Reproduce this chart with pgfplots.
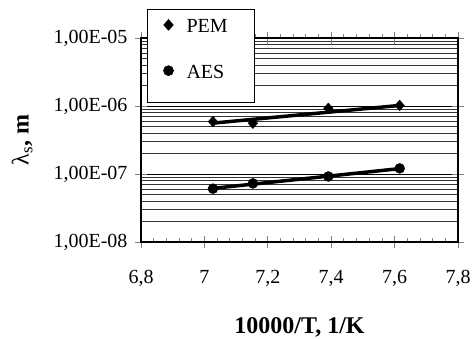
\documentclass[border=0pt]{standalone}
\usepackage{pgfplots}
\pgfplotsset{compat=1.18}
\usepackage{fontspec}
\setmainfont{Liberation Serif}
\begin{document}
\begin{tikzpicture}
\useasboundingbox (0pt,0pt) rectangle (474pt,339pt);
\begin{axis}[
  at={(141pt,97pt)}, anchor=south west,
  scale only axis, width=317pt, height=204pt,
  ymode=log, ymin=1e-8, ymax=1e-5,
  xmin=6.8, xmax=7.8,
  xtick={6.8,7.0,7.2,7.4,7.6,7.8},
  xticklabels={{6,8},7,{7,2},{7,4},{7,6},{7,8}},
  ytick={1e-8,1e-7,1e-6,1e-5},
  yticklabels={{1,00E-08},{1,00E-07},{1,00E-06},{1,00E-05}},
  minor x tick num=4,
  tick align=center,
  major tick length=12pt,
  minor tick length=4pt,
  minor x tick style={yshift=2pt, line width=0.8pt},
  major x tick style={line width=0.8pt},
  major y tick style={line width=0.8pt},
  minor y tick style={draw=none},
  ymajorgrids, yminorgrids,
  major grid style={black, line width=0.7pt},
  minor grid style={black!80, line width=0.55pt},
  axis line style={line width=0.9pt},
  y axis line style={line width=1.4pt},
  ticklabel style={font=\fontsize{20}{24}\selectfont},
  yticklabel style={xshift=-4pt},
  xticklabel style={yshift=-19pt},
  xlabel={\textbf{10000/T, 1/K}},
  ylabel={λ\textsubscript{s}\textbf{, m}},
  label style={font=\fontsize{24}{28}\selectfont},
  xlabel style={at={(axis description cs:0.5,-0.42)}, anchor=center},
  ylabel style={at={(axis description cs:-0.375,0.5)}, anchor=center},
  legend style={at={(0.0199,1.1422)}, anchor=north west, draw=black, line width=0.6pt,
    font=\fontsize{20}{24}\selectfont, fill=white, inner xsep=15.9pt, inner ysep=9.3pt,
    row sep=17pt, nodes={inner sep=0pt, text height=14pt, text depth=14.7pt},
    /tikz/every odd column/.style={column sep=13pt}},
  legend image post style={yshift=8pt},
  legend cell align=left,
  clip=false,
]
\addplot[black, line width=3.5pt, forget plot] coordinates {(7.027,5.6e-7) (7.616,1.02e-6)};
\addplot[black, line width=3.5pt, forget plot] coordinates {(7.027,6.15e-8) (7.616,1.2e-7)};
\addplot[only marks, mark=diamond*, mark size=5.3pt, mark options={xscale=1.2}, black] coordinates {
  (7.027,5.9e-7) (7.153,5.57e-7) (7.391,9.25e-7) (7.616,1.02e-6)};
\addlegendentry{PEM\hspace*{10.4pt}}
\addplot[only marks, mark=*, mark size=5pt, black] coordinates {
  (7.027,6.08e-8) (7.153,7.27e-8) (7.391,9.2e-8) (7.616,1.21e-7)};
\addlegendentry{AES}
\end{axis}
\end{tikzpicture}
\end{document}
